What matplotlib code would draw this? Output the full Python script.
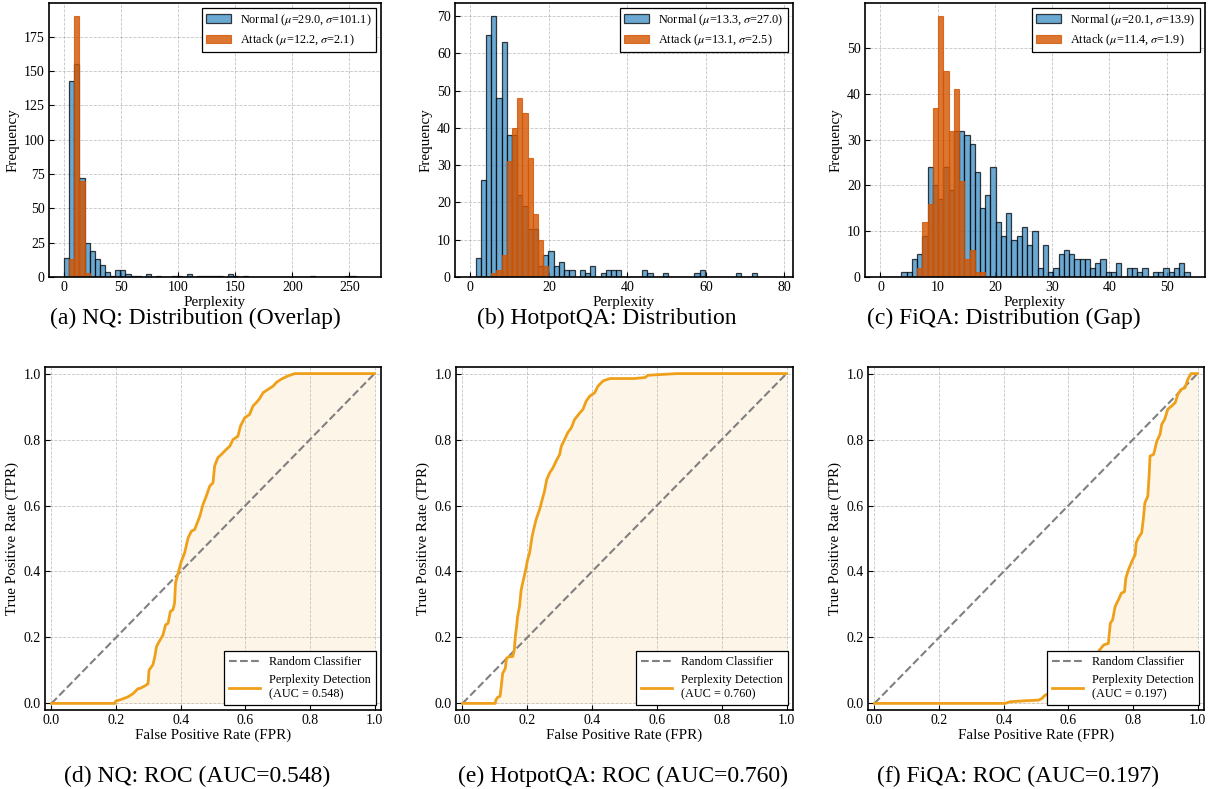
import numpy as np
import matplotlib
matplotlib.use("Agg")
import matplotlib.pyplot as plt
from matplotlib.ticker import MultipleLocator

plt.rcParams['font.family'] = ['Liberation Serif', 'DejaVu Serif']
plt.rcParams['mathtext.fontset'] = 'stix'

# ---------------- histogram data (counts per bin, 59 shared bins) ----------------
nq_range = (0.0, 264.5)
nq_normal = [14, 143, 155, 72, 25, 19, 13, 9, 4, 1, 5, 5, 2, 1, 1, 0, 2, 0, 1, 0,
             0, 1, 1, 0, 2, 0, 1, 1, 1, 1, 1, 0, 2, 1, 0, 1, 0, 0, 0, 0,
             0, 0, 0, 0, 0, 0, 0, 0, 1, 0, 0, 0, 0, 0, 0, 1, 1, 0, 0]
nq_attack = [0, 13, 190, 70, 3] + [0] * 54

hp_range = (0.0, 78.3)
hp_normal = [0, 5, 26, 65, 70, 48, 63, 38, 38, 22, 19, 13, 13, 3, 6, 7, 3, 4, 2, 2,
             0, 2, 1, 3, 0, 1, 2, 2, 2, 0, 0, 0, 0, 2, 1, 0, 0, 1, 0, 0,
             0, 0, 0, 1, 2, 0, 0, 0, 0, 0, 0, 1, 0, 0, 1, 0, 0, 0, 0]
hp_attack = [0, 0, 0, 0, 1, 2, 6, 31, 40, 48, 44, 32, 17, 10, 3] + [0] * 44

fq_range = (0.0, 54.0)
fq_normal = [0, 0, 0, 0, 1, 1, 4, 5, 9, 24, 20, 17, 24, 19, 32, 32, 31, 29, 23, 15,
             18, 24, 12, 9, 14, 8, 9, 11, 7, 10, 2, 7, 1, 2, 5, 6, 5, 4, 4, 4,
             2, 3, 4, 1, 1, 3, 0, 2, 2, 1, 2, 0, 1, 1, 2, 1, 2, 3, 1]
fq_attack = [0, 0, 0, 0, 0, 0, 0, 2, 12, 16, 37, 57, 45, 32, 41, 21, 4, 6, 1, 1] + [0] * 39

hist_legend = [("Normal ($\\mu$=29.0, $\\sigma$=101.1)", "Attack ($\\mu$=12.2, $\\sigma$=2.1)"),
               ("Normal ($\\mu$=13.3, $\\sigma$=27.0)", "Attack ($\\mu$=13.1, $\\sigma$=2.5)"),
               ("Normal ($\\mu$=20.1, $\\sigma$=13.9)", "Attack ($\\mu$=11.4, $\\sigma$=1.9)")]

# ---------------- ROC data ----------------
nq_fpr = [0.0, 0.196, 0.199, 0.216, 0.237, 0.253, 0.263, 0.268, 0.273, 0.289, 0.299, 0.302,
          0.314, 0.320, 0.325, 0.333, 0.345, 0.353, 0.361, 0.368, 0.376, 0.381, 0.384, 0.392,
          0.402, 0.412, 0.423, 0.433, 0.443, 0.459, 0.469, 0.479, 0.490, 0.500, 0.505, 0.515,
          0.526, 0.541, 0.552, 0.562, 0.577, 0.585, 0.598, 0.613, 0.624, 0.634, 0.644, 0.655,
          0.670, 0.686, 0.696, 0.711, 0.732, 0.753, 1.0]
nq_tpr = [0.0, 0.0, 0.007, 0.012, 0.020, 0.030, 0.040, 0.045, 0.045, 0.053, 0.060, 0.101,
          0.117, 0.142, 0.172, 0.187, 0.207, 0.238, 0.243, 0.279, 0.284, 0.304, 0.365, 0.395,
          0.431, 0.456, 0.502, 0.522, 0.527, 0.567, 0.603, 0.628, 0.659, 0.669, 0.720, 0.745,
          0.755, 0.770, 0.780, 0.800, 0.810, 0.841, 0.866, 0.876, 0.902, 0.912, 0.924, 0.942,
          0.952, 0.962, 0.973, 0.983, 0.993, 1.0, 1.0]

hp_fpr = [0.0, 0.101, 0.103, 0.108, 0.116, 0.119, 0.124, 0.132, 0.136, 0.145, 0.155, 0.160,
          0.163, 0.167, 0.170, 0.176, 0.181, 0.188, 0.194, 0.201, 0.207, 0.215, 0.222, 0.227,
          0.238, 0.246, 0.253, 0.260, 0.269, 0.279, 0.289, 0.300, 0.305, 0.315, 0.325, 0.336,
          0.346, 0.362, 0.372, 0.382, 0.393, 0.408, 0.418, 0.434, 0.455, 0.527, 0.563, 0.573,
          0.661, 1.0]
hp_tpr = [0.0, 0.0, 0.010, 0.018, 0.022, 0.046, 0.091, 0.106, 0.137, 0.142, 0.142, 0.162,
          0.203, 0.233, 0.263, 0.294, 0.344, 0.375, 0.400, 0.436, 0.456, 0.507, 0.537, 0.557,
          0.588, 0.618, 0.643, 0.679, 0.699, 0.714, 0.735, 0.755, 0.780, 0.800, 0.821, 0.836,
          0.861, 0.881, 0.892, 0.917, 0.932, 0.942, 0.962, 0.978, 0.985, 0.985, 0.988, 0.995,
          1.0, 1.0]

fq_fpr = [0.0, 0.404, 0.420, 0.466, 0.508, 0.518, 0.528, 0.549, 0.570, 0.585, 0.615, 0.642,
          0.673, 0.693, 0.709, 0.724, 0.730, 0.737, 0.745, 0.755, 0.764, 0.774, 0.778, 0.786,
          0.797, 0.807, 0.810, 0.817, 0.827, 0.832, 0.837, 0.846, 0.850, 0.853, 0.864, 0.869,
          0.874, 0.884, 0.889, 0.898, 0.908, 0.920, 0.931, 0.939, 0.949, 0.961, 0.970, 0.980,
          1.0]
fq_tpr = [0.0, 0.0, 0.005, 0.008, 0.010, 0.015, 0.025, 0.032, 0.038, 0.046, 0.070, 0.100,
          0.130, 0.157, 0.177, 0.182, 0.243, 0.253, 0.294, 0.314, 0.334, 0.339, 0.380, 0.405,
          0.431, 0.451, 0.486, 0.502, 0.517, 0.557, 0.608, 0.628, 0.689, 0.750, 0.755, 0.775,
          0.795, 0.816, 0.846, 0.861, 0.892, 0.902, 0.912, 0.937, 0.952, 0.957, 0.983, 1.0,
          1.0]

auc_values = [0.548, 0.760, 0.197]

captions_top = ["(a) NQ: Distribution (Overlap)", "(b) HotpotQA: Distribution",
                "(c) FiQA: Distribution (Gap)"]
captions_bottom = ["(d) NQ: ROC (AUC=0.548)", "(e) HotpotQA: ROC (AUC=0.760)",
                   "(f) FiQA: ROC (AUC=0.197)"]

# ---------------- figure ----------------
W, H = 1208, 789
fig = plt.figure(figsize=(W / 100, H / 100), dpi=100)


def px_axes(l, t, r, b):
    return fig.add_axes([l / W, 1 - b / H, (r - l) / W, (b - t) / H])


top_boxes = [(49, 3, 381, 277), (455, 3, 793, 277), (865, 3, 1205, 277)]
bot_boxes = [(45, 367, 381, 710), (456, 367, 793, 710), (868, 367, 1204, 710)]

hist_sets = [(nq_range, nq_normal, nq_attack, 50, 25),
             (hp_range, hp_normal, hp_attack, 20, 10),
             (fq_range, fq_normal, fq_attack, 10, 10)]

blue = '#3A8DC5'
orange = '#D35400'
roc_col = '#EFA01A'


def style(ax):
    ax.tick_params(direction='in', labelsize=10, length=3.5, width=0.8, pad=3)
    for s in ax.spines.values():
        s.set_linewidth(1.2)
    ax.grid(True, linestyle='--', color='gray', alpha=0.45, linewidth=0.6)
    ax.set_axisbelow(True)


for i, (rng, normal, attack, xstep, ystep) in enumerate(hist_sets):
    ax = px_axes(*top_boxes[i])
    edges = np.linspace(rng[0], rng[1], len(normal) + 1)
    ax.hist(edges[:-1], bins=edges, weights=normal, color=blue, alpha=0.75,
            edgecolor='black', linewidth=0.9, label=hist_legend[i][0])
    ax.hist(edges[:-1], bins=edges, weights=attack, color=orange, alpha=0.8,
            edgecolor=orange, linewidth=0.8, label=hist_legend[i][1])
    ax.xaxis.set_major_locator(MultipleLocator(xstep))
    ax.yaxis.set_major_locator(MultipleLocator(ystep))
    ax.set_xlabel("Perplexity", fontsize=10.8, labelpad=1)
    ax.set_ylabel("Frequency", fontsize=10.8, labelpad=3)
    style(ax)
    leg = ax.legend(loc='upper right', fontsize=8.8, fancybox=False, framealpha=1,
                    edgecolor='black', borderpad=0.35, handlelength=2.0,
                    labelspacing=0.4, borderaxespad=0.4)
    leg.get_frame().set_linewidth(0.9)

roc_sets = [(nq_fpr, nq_tpr), (hp_fpr, hp_tpr), (fq_fpr, fq_tpr)]
for i, (fpr, tpr) in enumerate(roc_sets):
    ax = px_axes(*bot_boxes[i])
    ax.plot([0, 1], [0, 1], linestyle='--', color='gray', linewidth=1.5,
            label='Random Classifier')
    ax.plot(fpr, tpr, color=roc_col, linewidth=2.0,
            label=f'Perplexity Detection\n(AUC = {auc_values[i]:.3f})')
    ax.fill_between(fpr, tpr, color=roc_col, alpha=0.1, linewidth=0)
    ax.set_xlim(-0.02, 1.02)
    ax.set_ylim(-0.02, 1.02)
    ax.xaxis.set_major_locator(MultipleLocator(0.2))
    ax.yaxis.set_major_locator(MultipleLocator(0.2))
    ax.set_xlabel("False Positive Rate (FPR)", fontsize=10.8, labelpad=1)
    ax.set_ylabel("True Positive Rate (TPR)", fontsize=10.8, labelpad=3)
    style(ax)
    leg = ax.legend(loc='lower right', fontsize=8.8, fancybox=False, framealpha=1,
                    edgecolor='black', borderpad=0.4, handlelength=2.5,
                    borderaxespad=0.4)
    leg.get_frame().set_linewidth(0.9)

top_cx = [195, 607, 1004]
bot_cx = [197, 623, 1018]
for i in range(3):
    fig.text(top_cx[i] / W, 1 - 318 / H, captions_top[i], ha='center', va='center', fontsize=17)
    fig.text(bot_cx[i] / W, 1 - 776 / H, captions_bottom[i], ha='center', va='center', fontsize=17)

fig.savefig("out.png", dpi=100)
